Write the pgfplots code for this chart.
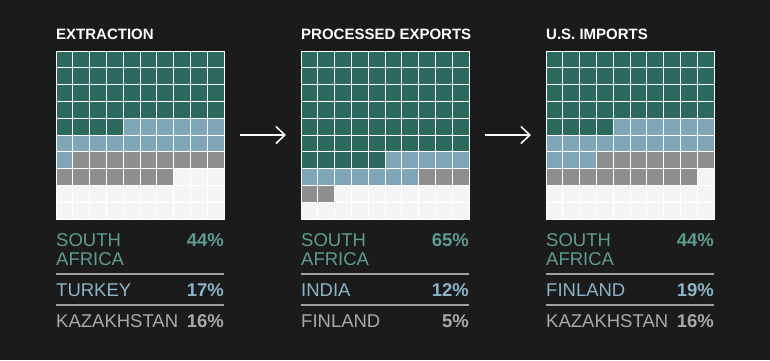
\documentclass[border=0pt]{standalone}
\usepackage{pgfplots}
\pgfplotsset{compat=1.18}
\usepackage{fontspec}
\setmainfont{Liberation Sans}
\usetikzlibrary{arrows.meta}
\definecolor{bg}{HTML}{1B1B1B}
\definecolor{cgreen}{HTML}{2C695D}
\definecolor{cblue}{HTML}{7FA5B7}
\definecolor{cgray}{HTML}{8E8E8E}
\definecolor{cwhite}{HTML}{F4F4F4}
\definecolor{tteal}{HTML}{5E9C90}
\definecolor{tblue}{HTML}{8CB3C6}
\definecolor{tgray}{HTML}{A9A9A9}
\definecolor{sepc}{HTML}{A0A0A0}
\pgfplotsset{waffle/.style={
  xbar stacked, bar width=1,
  width=168pt, height=168pt, scale only axis,
  xmin=0, xmax=10, ymin=-0.5, ymax=9.5, y dir=reverse,
  enlargelimits=false,
  xtick={0,...,10}, ytick={-0.5,0.5,...,9.5},
  xticklabels={}, yticklabels={}, major tick length=0pt,
  grid=major, major grid style={white, line width=1pt},
  axis line style={white, line width=1pt},
  axis on top, anchor=south west,
  every axis plot/.append style={draw=none}
}}
\newcommand\titlefont{\bfseries\fontsize{15}{15}\selectfont}
\newcommand\lblfont{\fontsize{18.5}{18.5}\selectfont}
\begin{document}
\begin{tikzpicture}
\useasboundingbox (0,0) rectangle (770pt,360pt);
\fill[bg] (0,0) rectangle (770pt,360pt);

% ---------- EXTRACTION: 44 / 17 / 16 ----------
\begin{axis}[waffle, at={(56pt,141pt)}]
\addplot[fill=cgreen] coordinates {(10,0) (10,1) (10,2) (10,3) (4,4) (0,5) (0,6) (0,7) (0,8) (0,9)};
\addplot[fill=cblue]  coordinates {(0,0) (0,1) (0,2) (0,3) (6,4) (10,5) (1,6) (0,7) (0,8) (0,9)};
\addplot[fill=cgray]  coordinates {(0,0) (0,1) (0,2) (0,3) (0,4) (0,5) (9,6) (7,7) (0,8) (0,9)};
\addplot[fill=cwhite] coordinates {(0,0) (0,1) (0,2) (0,3) (0,4) (0,5) (0,6) (3,7) (10,8) (10,9)};
\end{axis}

% ---------- PROCESSED EXPORTS: 65 / 12 / 5 ----------
\begin{axis}[waffle, at={(301pt,141pt)}]
\addplot[fill=cgreen] coordinates {(10,0) (10,1) (10,2) (10,3) (10,4) (10,5) (5,6) (0,7) (0,8) (0,9)};
\addplot[fill=cblue]  coordinates {(0,0) (0,1) (0,2) (0,3) (0,4) (0,5) (5,6) (7,7) (0,8) (0,9)};
\addplot[fill=cgray]  coordinates {(0,0) (0,1) (0,2) (0,3) (0,4) (0,5) (0,6) (3,7) (2,8) (0,9)};
\addplot[fill=cwhite] coordinates {(0,0) (0,1) (0,2) (0,3) (0,4) (0,5) (0,6) (0,7) (8,8) (10,9)};
\end{axis}

% ---------- U.S. IMPORTS: 44 / 19 / 16 ----------
\begin{axis}[waffle, at={(546pt,141pt)}]
\addplot[fill=cgreen] coordinates {(10,0) (10,1) (10,2) (10,3) (4,4) (0,5) (0,6) (0,7) (0,8) (0,9)};
\addplot[fill=cblue]  coordinates {(0,0) (0,1) (0,2) (0,3) (6,4) (10,5) (3,6) (0,7) (0,8) (0,9)};
\addplot[fill=cgray]  coordinates {(0,0) (0,1) (0,2) (0,3) (0,4) (0,5) (7,6) (9,7) (0,8) (0,9)};
\addplot[fill=cwhite] coordinates {(0,0) (0,1) (0,2) (0,3) (0,4) (0,5) (0,6) (1,7) (10,8) (10,9)};
\end{axis}

% titles
\node[anchor=base west, inner sep=0, text=white, font=\titlefont] at (56pt,321pt) {EXTRACTION};
\node[anchor=base west, inner sep=0, text=white, font=\titlefont] at (301pt,321pt) {PROCESSED EXPORTS};
\node[anchor=base west, inner sep=0, text=white, font=\titlefont] at (546pt,321pt) {U.S. IMPORTS};

% arrows
\draw[white, line width=1.5pt, -{Straight Barb[length=9pt, width=17pt, line width=1.5pt]}] (240pt,225pt) -- (286pt,225pt);
\draw[white, line width=1.5pt, -{Straight Barb[length=9pt, width=17pt, line width=1.5pt]}] (485pt,225pt) -- (531pt,225pt);

% labels
\foreach \x/\a/\pa/\b/\pb/\c/\pc in {56/44\%/TURKEY/17\%/KAZAKHSTAN/16\%,
                                    301/65\%/INDIA/12\%/FINLAND/5\%,
                                    546/44\%/FINLAND/19\%/KAZAKHSTAN/16\%}{
  \pgfmathsetmacro\xr{\x+168}
  \node[anchor=base west, inner sep=0, text=tteal, font=\lblfont] at (\x pt,113.3pt) {SOUTH};
  \node[anchor=base west, inner sep=0, text=tteal, font=\lblfont] at (\x pt,95pt) {AFRICA};
  \node[anchor=base east, inner sep=0, text=tteal, font=\lblfont\bfseries] at (\xr pt,113.3pt) {\a};
  \draw[sepc, line width=1.7pt] (\x pt,85.7pt) -- (\xr pt,85.7pt);
  \node[anchor=base west, inner sep=0, text=tblue, font=\lblfont] at (\x pt,63.3pt) {\pa};
  \node[anchor=base east, inner sep=0, text=tblue, font=\lblfont\bfseries] at (\xr pt,63.3pt) {\b};
  \draw[sepc, line width=1.7pt] (\x pt,55pt) -- (\xr pt,55pt);
  \node[anchor=base west, inner sep=0, text=tgray, font=\lblfont] at (\x pt,32.7pt) {\pb};
  \node[anchor=base east, inner sep=0, text=tgray, font=\lblfont\bfseries] at (\xr pt,32.7pt) {\c};
}
\end{tikzpicture}
\end{document}
